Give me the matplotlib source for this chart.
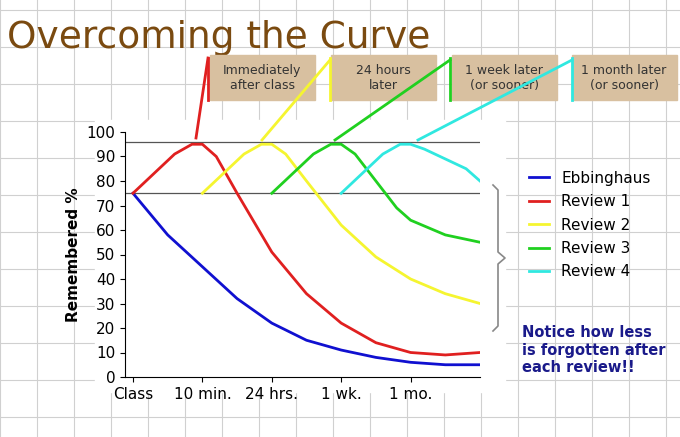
import matplotlib.pyplot as plt
from matplotlib.lines import Line2D
from matplotlib.patches import Rectangle

x_labels = ["Class", "10 min.", "24 hrs.", "1 wk.", "1 mo."]
x_ticks = [0, 1, 2, 3, 4]

ebb_x = [0, 0.5, 1, 1.5, 2, 2.5, 3, 3.5, 4, 4.5, 5]
ebb_y = [75, 58, 45, 32, 22, 15, 11, 8, 6, 5, 5]

r1_x = [0, 0.3, 0.6, 0.85, 1, 1.2, 1.5, 2, 2.5, 3, 3.5, 4, 4.5, 5]
r1_y = [75, 83, 91, 95, 95, 90, 75, 51, 34, 22, 14, 10, 9, 10]

r2_x = [1, 1.3, 1.6, 1.85, 2, 2.2, 2.5, 3, 3.5, 4, 4.5, 5]
r2_y = [75, 83, 91, 95, 95, 91, 80, 62, 49, 40, 34, 30]

r3_x = [2, 2.3, 2.6, 2.85, 3, 3.2, 3.5, 3.8, 4, 4.5, 5]
r3_y = [75, 83, 91, 95, 95, 91, 80, 69, 64, 58, 55]

r4_x = [3, 3.3, 3.6, 3.85, 4, 4.2, 4.5, 4.8, 5]
r4_y = [75, 83, 91, 95, 95, 93, 89, 85, 80]

W, H = 680, 437
def fx(px): return px / W
def fy(py): return 1 - py / H

fig = plt.figure(figsize=(6.8, 4.37), dpi=100)
fig.patch.set_facecolor("white")

# graph-paper background on its own axes, underneath everything
bg = fig.add_axes([0, 0, 1, 1], zorder=0)
bg.set_xlim(0, W)
bg.set_ylim(H, 0)
bg.axis("off")
for px in range(0, W + 1, 37):
    bg.plot([px, px], [0, H], color="#d0d0d0", lw=0.8)
for py in range(10, H, 37):
    bg.plot([0, W], [py, py], color="#d0d0d0", lw=0.8)
bg.add_patch(Rectangle((95, 120), 410, 272, color="white", zorder=3))

fig.text(0.01, 0.955, "Overcoming the Curve", color="#7a4a10", fontsize=27, va="top")

ax = fig.add_axes([fx(125), fy(377), 355 / W, 245 / H], zorder=2)
ax.patch.set_alpha(0)
ax.axhline(96, color="#555555", lw=0.9, zorder=1)
ax.axhline(75, color="#555555", lw=0.9, zorder=1)
ax.plot(ebb_x, ebb_y, color="#1010d0", lw=2, label="Ebbinghaus")
ax.plot(r1_x, r1_y, color="#e02020", lw=2, label="Review 1")
ax.plot(r2_x, r2_y, color="#f5f530", lw=2, label="Review 2")
ax.plot(r3_x, r3_y, color="#20d020", lw=2, label="Review 3")
ax.plot(r4_x, r4_y, color="#30e8e0", lw=2, label="Review 4")
ax.set_xlim(-0.115, 5)
ax.set_ylim(0, 100)
ax.set_yticks(range(0, 101, 10))
ax.set_xticks(x_ticks)
ax.set_xticklabels(x_labels)
ax.tick_params(labelsize=11)
ax.set_ylabel("Remembered %", fontsize=11, fontweight="bold")
for s in ["top", "right"]:
    ax.spines[s].set_visible(False)
ax.legend(loc="center left", bbox_to_anchor=(1.1, 0.62), frameon=False, fontsize=11,
          handlelength=1.3, labelspacing=0.55)

# callout boxes and pointer lines
ov = fig.add_axes([0, 0, 1, 1], zorder=5)
ov.set_xlim(0, W)
ov.set_ylim(H, 0)
ov.axis("off")
boxes = [(210, "Immediately\nafter class"), (331, "24 hours\nlater"),
         (452, "1 week later\n(or sooner)"), (572, "1 month later\n(or sooner)")]
for bx, txt in boxes:
    ov.add_patch(Rectangle((bx, 55), 105, 45, color="#d8c0a0", zorder=1))
    ov.text(bx + 52, 78, txt, ha="center", va="center", fontsize=9, color="#333333", zorder=2)
callouts = [("#e02020", (196, 138), (208, 58)), ("#f5f530", (262, 140), (330, 60)),
            ("#20d020", (335, 140), (450, 60)), ("#30e8e0", (418, 140), (572, 60))]
for c, (x0, y0), (x1, y1) in callouts:
    ov.plot([x0, x1], [y0, y1], color=c, lw=2, zorder=3)
    ov.plot([x1, x1], [58, 100], color=c, lw=2, zorder=3)

# brace
ov.plot([493, 498, 498, 505, 498, 498, 493], [185, 190, 252, 258, 264, 326, 331],
        color="#888888", lw=1.2)

ov.text(522, 350, "Notice how less\nis forgotten after\neach review!!",
        color="#1a1a8a", fontsize=10.5, fontweight="bold", va="center")

fig.savefig("out.png", dpi=100)
